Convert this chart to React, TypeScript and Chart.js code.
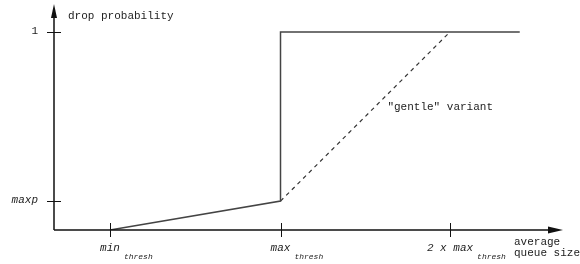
import React, { useEffect, useRef } from "react";
import { Chart, registerables } from "chart.js";

Chart.register(...registerables);

// Queue-size axis (arbitrary units) and drop probability
const xTickValues = [11, 44.5, 77.8];
const xTickMain = ["min", "max", "2 x max"];
const xTickSub = ["thresh", "thresh", "thresh"];
const yTickValues = [0.146, 1];
const yTickLabels = ["maxp", "1"];

const redX = [11, 44.5, 44.5, 91.5];
const redY = [0, 0.146, 1, 1];
const gentleX = [44.5, 77.8];
const gentleY = [0.146, 1];

const yAxisTitle = "drop probability";
const xAxisTitle = ["average", "queue size"];
const gentleLabel = "\"gentle\" variant";
const gentleLabelPos = { x: 65.5, y: 0.62 };

const FONT = "\"Liberation Mono\", \"Courier New\", monospace";

const axesPlugin = {
  id: "redAxes",
  afterDraw(chart: any) {
    const { ctx, chartArea, scales } = chart;
    const xs = scales.x;
    const ys = scales.y;
    const x0 = chartArea.left;
    const y0 = ys.getPixelForValue(0);
    const xEnd = chartArea.right;
    const yEnd = chartArea.top;
    ctx.save();
    ctx.strokeStyle = "#111";
    ctx.fillStyle = "#111";
    ctx.lineWidth = 1.5;
    // axes
    ctx.beginPath();
    ctx.moveTo(x0, y0);
    ctx.lineTo(xEnd - 10, y0);
    ctx.moveTo(x0, y0);
    ctx.lineTo(x0, yEnd + 10);
    ctx.stroke();
    // arrows
    ctx.beginPath();
    ctx.moveTo(xEnd, y0);
    ctx.lineTo(xEnd - 15, y0 - 3.5);
    ctx.lineTo(xEnd - 15, y0 + 3.5);
    ctx.closePath();
    ctx.fill();
    ctx.beginPath();
    ctx.moveTo(x0, yEnd);
    ctx.lineTo(x0 - 3, yEnd + 14);
    ctx.lineTo(x0 + 3, yEnd + 14);
    ctx.closePath();
    ctx.fill();
    // ticks
    ctx.lineWidth = 1;
    ctx.beginPath();
    xTickValues.forEach((v) => {
      const px = Math.round(xs.getPixelForValue(v)) + 0.5;
      ctx.moveTo(px, y0 - 7);
      ctx.lineTo(px, y0 + 7);
    });
    yTickValues.forEach((v) => {
      const py = Math.round(ys.getPixelForValue(v)) + 0.5;
      ctx.moveTo(x0 - 7, py);
      ctx.lineTo(x0 + 7, py);
    });
    ctx.stroke();
    // tick labels
    ctx.fillStyle = "#222";
    ctx.textBaseline = "middle";
    ctx.textAlign = "right";
    yTickValues.forEach((v, i) => {
      const py = ys.getPixelForValue(v);
      ctx.font = (i === 0 ? "italic " : "") + "11px " + FONT;
      ctx.fillText(yTickLabels[i], x0 - 16, py - 1);
    });
    xTickValues.forEach((v, i) => {
      const px = xs.getPixelForValue(v);
      ctx.font = "italic 11px " + FONT;
      ctx.textAlign = "center";
      const w = ctx.measureText(xTickMain[i]).width;
      ctx.fillText(xTickMain[i], px, y0 + 18);
      ctx.font = "italic 8px " + FONT;
      ctx.textAlign = "left";
      ctx.fillText(xTickSub[i], px + w / 2 + 4, y0 + 27);
    });
    // axis titles
    ctx.font = "11px " + FONT;
    ctx.textAlign = "left";
    ctx.fillText(yAxisTitle, x0 + 14, yEnd + 12);
    ctx.fillText(xAxisTitle[0], xEnd - 49, y0 + 12);
    ctx.fillText(xAxisTitle[1], xEnd - 49, y0 + 23);
    ctx.fillText(
      gentleLabel,
      xs.getPixelForValue(gentleLabelPos.x),
      ys.getPixelForValue(gentleLabelPos.y)
    );
    ctx.restore();
  },
};

export default function App() {
  const ref = useRef<HTMLCanvasElement | null>(null);
  useEffect(() => {
    if (!ref.current) return;
    const chart = new Chart(ref.current, {
      type: "scatter",
      data: {
        datasets: [
          {
            data: redX.map((x, i) => ({ x, y: redY[i] })),
            showLine: true,
            borderColor: "#444",
            borderWidth: 1.5,
            pointRadius: 0,
            fill: false,
          },
          {
            data: gentleX.map((x, i) => ({ x, y: gentleY[i] })),
            showLine: true,
            borderColor: "#333",
            borderWidth: 1.2,
            borderDash: [4, 4],
            pointRadius: 0,
            fill: false,
          },
        ],
      },
      options: {
        responsive: false,
        animation: false,
        events: [],
        layout: { padding: { left: 54, right: 17, top: 4, bottom: 34 } },
        plugins: { legend: { display: false }, tooltip: { enabled: false } },
        scales: {
          x: { type: "linear", display: false, min: 0, max: 100 },
          y: { type: "linear", display: false, min: 0, max: 1.141 },
        },
      },
      plugins: [axesPlugin],
    });
    return () => chart.destroy();
  }, []);
  return (
    <div style={{ position: "fixed", left: 0, top: 0, width: 580, height: 264, background: "#fff" }}>
      <canvas ref={ref} width={580} height={264} style={{ display: "block" }} />
    </div>
  );
}
